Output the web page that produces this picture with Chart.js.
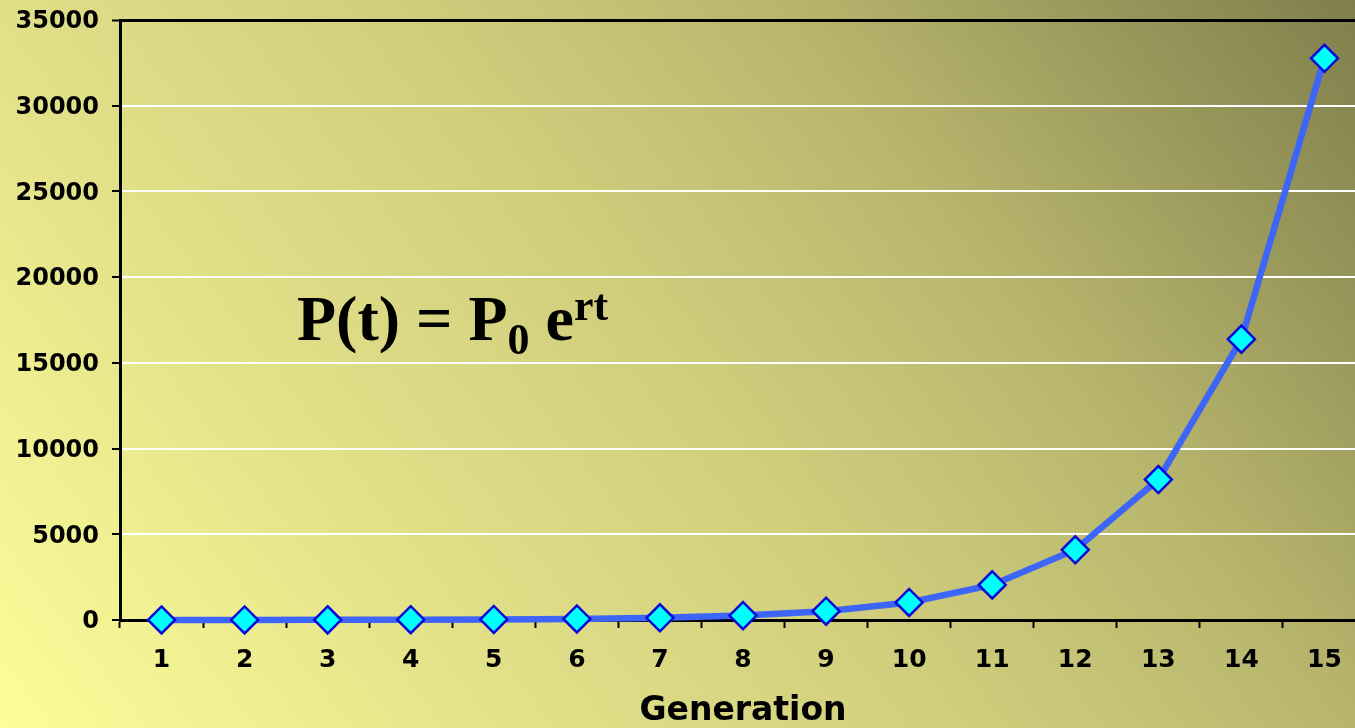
<!DOCTYPE html>
<html>
<head>
<meta charset="utf-8">
<script src="https://cdn.jsdelivr.net/npm/chart.js@4/dist/chart.umd.min.js"></script>
<style>
  html, body { margin: 0; padding: 0; overflow: hidden; width: 1355px; height: 728px; background: #e8e68c; }
  canvas { display: block; }
</style>
</head>
<body>
<canvas id="c" width="1366" height="728"></canvas>
<script>
// Generations and population counts (doubling each generation)
const generations = ['1','2','3','4','5','6','7','8','9','10','11','12','13','14','15'];
const population = [2, 4, 8, 16, 32, 64, 128, 256, 512, 1024, 2048, 4096, 8192, 16384, 32768];
const yTicks = [0, 5000, 10000, 15000, 20000, 25000, 30000, 35000];

const LABEL_FONT = '"DejaVu Sans", Verdana, sans-serif';

// Olive-to-pale-yellow backdrop, darkest in the top-right corner
const backdrop = {
  id: 'backdrop',
  beforeDraw(chart) {
    const ctx = chart.ctx;
    const W = 1355, H = 728;
    // gradient axis pointing from the top-right towards the lower left
    const ux = -0.787, uy = 0.616;
    const p0 = W * ux;            // projection of the top-right corner
    const p1 = H * uy;            // projection of the bottom-left corner
    const len = p1 - p0;
    const g = ctx.createLinearGradient(W, 0, W + ux * len, uy * len);
    g.addColorStop(0, '#7f7f4c');
    g.addColorStop(0.3, '#b8b66d');
    g.addColorStop(0.5, '#d0ce7c');
    g.addColorStop(0.7, '#e0de87');
    g.addColorStop(1, '#fdfd9a');
    ctx.save();
    ctx.fillStyle = g;
    ctx.fillRect(0, 0, chart.width, chart.height);
    ctx.restore();
  }
};

// Growth formula written on the plot
const formula = {
  id: 'formula',
  afterDatasetsDraw(chart) {
    const ctx = chart.ctx;
    const serif = '"Liberation Serif", "Times New Roman", serif';
    ctx.save();
    ctx.fillStyle = '#000';
    ctx.textBaseline = 'alphabetic';
    ctx.textAlign = 'left';
    let x = 297, y = 340;
    ctx.font = 'bold 64px ' + serif;
    ctx.fillText('P(t) = P', x, y);
    x += ctx.measureText('P(t) = P').width;
    ctx.font = 'bold 44px ' + serif;
    ctx.fillText('0', x, 354);
    x += ctx.measureText('0').width;
    ctx.font = 'bold 64px ' + serif;
    ctx.fillText(' e', x, y);
    x += ctx.measureText(' e').width;
    ctx.font = 'bold 44px ' + serif;
    ctx.fillText('rt', x, 320);
    ctx.restore();
  }
};

new Chart(document.getElementById('c'), {
  type: 'line',
  data: {
    labels: generations,
    datasets: [{
      data: population,
      borderColor: '#3d66f8',
      borderWidth: 6.5,
      tension: 0,
      clip: false,
      pointStyle: 'rectRot',
      pointRadius: 13.5,
      pointBackgroundColor: '#00ffff',
      pointBorderColor: '#0808d8',
      pointBorderWidth: 2.5
    }]
  },
  options: {
    responsive: false,
    animation: false,
    devicePixelRatio: 1,
    layout: { autoPadding: false, padding: { top: 20, left: 0, right: 0, bottom: 0 } },
    plugins: { legend: { display: false }, tooltip: { enabled: false } },
    scales: {
      x: {
        type: 'category',
        offset: true,
        afterFit(scale) {
          scale.height = 108;
          scale.paddingLeft = 0;
          scale.paddingRight = 0;
        },
        grid: {
          offset: true,
          drawOnChartArea: false,
          drawTicks: true,
          tickLength: 8,
          tickColor: '#000',
          tickWidth: 2
        },
        border: { display: true, color: '#000', width: 3 },
        ticks: {
          color: '#000',
          padding: 17,
          font: { family: LABEL_FONT, size: 25, weight: 'bold' }
        },
        title: {
          display: true,
          text: 'Generation',
          color: '#000',
          font: { family: LABEL_FONT, size: 33, weight: 'bold' },
          padding: { top: 0, bottom: -3 }
        }
      },
      y: {
        min: 0,
        max: 35000,
        afterFit(scale) {
          scale.width = 120;
          scale.paddingTop = 0;
          scale.paddingBottom = 0;
        },
        afterBuildTicks(scale) { scale.ticks = yTicks.map(v => ({ value: v })); },
        grid: {
          color: ctx => (ctx.tick && (ctx.tick.value === 35000 || ctx.tick.value === 0)) ? '#000' : '#ffffff',
          lineWidth: ctx => (ctx.tick && ctx.tick.value === 35000) ? 3 : 2,
          drawTicks: true,
          tickLength: 8,
          tickColor: '#000',
          tickWidth: 2
        },
        border: { display: true, color: '#000', width: 3 },
        ticks: {
          color: '#000',
          padding: 13,
          labelOffset: 2,
          font: { family: LABEL_FONT, size: 24, weight: 'bold' },
          callback: v => String(v)
        }
      }
    }
  },
  plugins: [backdrop, formula]
});
</script>
</body>
</html>
